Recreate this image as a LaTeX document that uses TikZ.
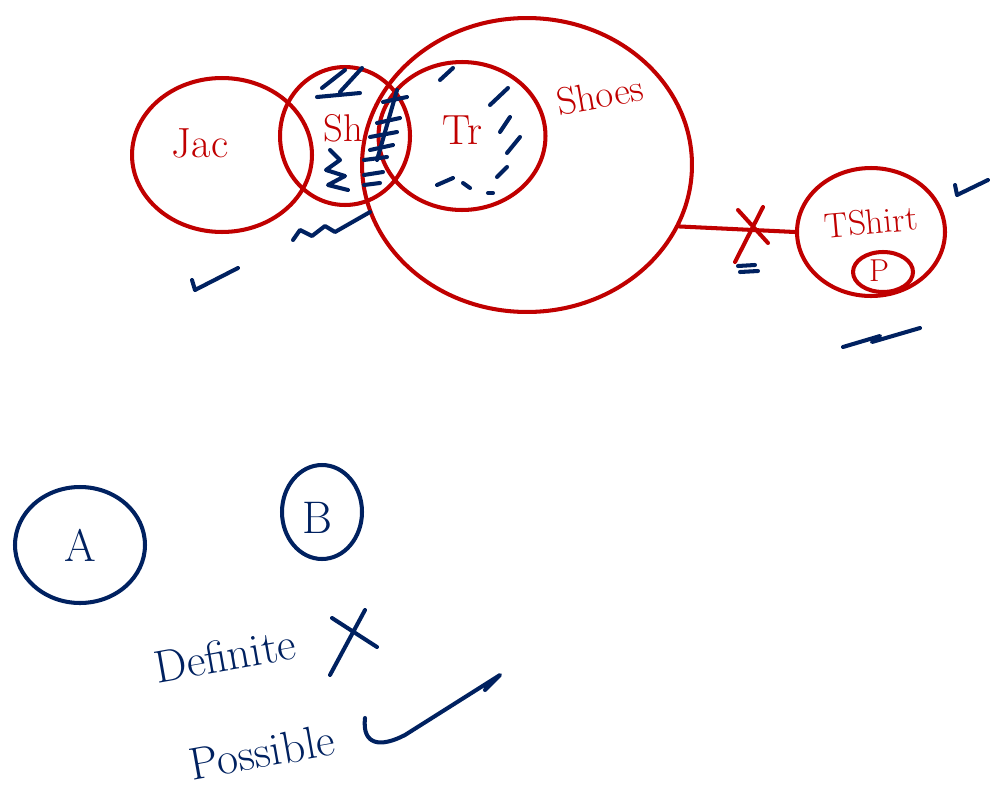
\documentclass[tikz,border=0pt]{standalone}
\usepackage{xcolor}
\usepackage{tikz}
\usetikzlibrary{shapes.geometric}
\definecolor{penred}{RGB}{192, 0, 0}
\definecolor{penblue}{RGB}{0, 33, 96}

\begin{document}
\begin{tikzpicture}[x=0.02cm, y=-0.02cm,
  pen/.style={line width=2.3pt, line cap=round, line join=round},
  ring/.style={pen, draw=penred, ellipse, inner sep=0pt},
  bluering/.style={pen, draw=penblue, ellipse, inner sep=0pt},
  redtext/.style={text=penred, inner sep=1pt, font=\fontsize{24}{26}\selectfont},
  bluetext/.style={text=penblue, inner sep=1pt, font=\fontsize{26}{28}\selectfont},
  scribble/.style={pen, draw=penblue}]
\useasboundingbox (0,0) rectangle (1000,808);
\node[ring, minimum width=3.6cm, minimum height=3.08cm] (jac) at (222,155) {};
\node[ring, minimum width=2.6cm, minimum height=2.76cm] (sh) at (345,136) {};
\node[ring, minimum width=3.34cm, minimum height=2.96cm] (tr) at (462,136) {};
\node[ring, minimum width=6.6cm, minimum height=5.88cm] (shoes) at (527,165) {};
\node[ring, minimum width=2.96cm, minimum height=2.56cm] (tshirt) at (871,232) {};
\node[ring, minimum width=1.2cm, minimum height=0.8cm] (pring) at (883,272) {};
\node[redtext] (jaclabel) at (200,143) {Jac};
\node[redtext, font=\fontsize{22}{24}\selectfont] (shlabel) at (343,128) {Sh};
\node[redtext] (trlabel) at (462,130) {Tr};
\node[redtext, rotate=10, font=\fontsize{22}{24}\selectfont] (shoeslabel) at (600,95) {Shoes};
\node[redtext, rotate=5, font=\fontsize{20}{22}\selectfont] (tshirtlabel) at (871,222) {TShirt};
\node[redtext, font=\fontsize{18}{20}\selectfont] (plabel) at (879,271) {P};
\draw[pen, penred] (shoes.-22) -- (tshirt.west);
\draw[pen, penred] (738,210) -- (768,243) (763,207) -- (735,262);
\foreach \ya/\yb/\xa/\xb in {102/97/383/407, 123/118/377/400, 137/132/370/397, 150/145/370/393, 160/157/364/387, 175/172/364/383, 185/183/364/380}
  \draw[scribble] (\xa,\ya) -- (\xb,\yb);
\draw[scribble] (397,90) -- (377,160);
\foreach \xa/\ya/\xb/\yb in {440/80/453/68, 490/105/508/88, 500/132/510/117, 507/153/520/137, 497/177/507/167, 437/185/453/178, 463/183/470/188, 488/193/493/193}
  \draw[scribble] (\xa,\ya) -- (\xb,\yb);
\draw[scribble] (317,97) -- (360,93) (322,88) -- (345,70) (340,92) -- (362,68);
\draw[scribble] (330,150) -- (340,160) -- (326,170) -- (345,176) -- (328,185) -- (348,190);
\draw[scribble] (293,240) -- (300,230) -- (312,236) -- (325,226) -- (335,232) -- (370,212);
\draw[scribble] (192,280) -- (195,290) -- (238,268);
\draw[scribble] (955,185) -- (957,195) -- (988,180);
\draw[scribble] (738,266) -- (755,265) (740,272) -- (758,271);
\draw[scribble] (843,347) -- (880,336) -- (872,342) -- (920,328);
\node[bluering, minimum width=2.6cm, minimum height=2.32cm] (seta) at (80,545) {};
\node[bluering, minimum width=1.6cm, minimum height=1.88cm] (setb) at (322,512) {};
\node[bluetext] (alabel) at (80,545) {A};
\node[bluetext] (blabel) at (317,518) {B};
\node[bluetext, rotate=10] (definite) at (225,655) {Definite};
\draw[scribble] (332,618) -- (377,647) (365,610) -- (330,675);
\node[bluetext, rotate=10] (possible) at (262,752) {Possible};
\draw[scribble] (365,718) .. controls (362,745) and (380,748) .. (405,735) -- (500,675) -- (485,690);
\end{tikzpicture}
\end{document}
